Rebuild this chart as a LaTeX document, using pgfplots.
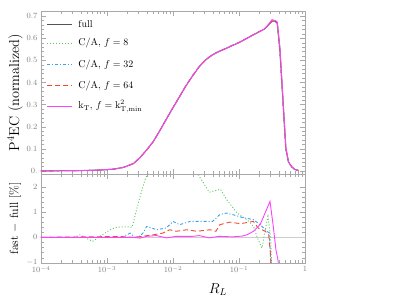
\documentclass[border=0pt]{standalone}
\usepackage{pgfplots}
\pgfplotsset{compat=1.18}
\definecolor{colfull}{HTML}{555555}
\definecolor{colca}{HTML}{5CC65C}
\definecolor{colcb}{HTML}{3AA0F0}
\definecolor{colcc}{HTML}{F04A2A}
\definecolor{colkt}{HTML}{FF40FF}
\definecolor{colax}{HTML}{A8A8A8}
\definecolor{coltick}{HTML}{808080}
\definecolor{colzero}{HTML}{CCCCCC}
\begin{document}
\begin{tikzpicture}
\path[use as bounding box] (0,0) rectangle (399bp,304bp);
% ---------- upper panel ----------
\begin{axis}[scale only axis, width=264bp, height=163bp,
  xmode=log, xmin=1e-4, xmax=1,
  axis line style={colax}, tick style={colax}, tick align=inside,
  major tick length=5bp, minor tick length=3bp,
  tick label style={font=\footnotesize, text=coltick},
  at={(41bp,130bp)}, anchor=south west,
  ymin=-0.014, ymax=0.723,
  ytick={0,0.1,0.2,0.3,0.4,0.5,0.6,0.7},
  yticklabels={0.,0.1,0.2,0.3,0.4,0.5,0.6,0.7},
  minor y tick num=4, xticklabels={},
  ylabel={P$^4$EC (normalized)},
  ylabel style={font=\Large, at={(axis description cs:-0.098,0.5)}, anchor=center},
]
\addplot[draw=colfull, line width=1pt] coordinates {
(1e-4,0.000) (2.51e-4,0.001) (5.01e-4,0.002) (7.94e-4,0.004) (1.26e-3,0.008)
(1.78e-3,0.016) (2.51e-3,0.033) (3.16e-3,0.060) (3.98e-3,0.094) (5.01e-3,0.132)
(6.31e-3,0.182) (7.94e-3,0.234) (1e-2,0.286) (1.26e-2,0.336) (1.58e-2,0.386)
(2.00e-2,0.431) (2.51e-2,0.472) (3.16e-2,0.503) (3.98e-2,0.525) (5.01e-2,0.540)
(6.31e-2,0.553) (7.94e-2,0.567) (0.1,0.580) (0.126,0.596) (0.158,0.612)
(0.200,0.628) (0.240,0.640) (0.282,0.660) (0.316,0.678) (0.355,0.676)
(0.380,0.670) (0.417,0.55) (0.447,0.40) (0.479,0.25) (0.513,0.10)
(0.562,0.040) (0.631,0.018) (0.708,0.006) (0.794,0.002)};
\addplot[draw=colca, line width=0.9pt, dash pattern=on 1pt off 2pt] coordinates {
(1e-4,0.000) (2.51e-4,0.001) (5.01e-4,0.002) (7.94e-4,0.004) (1.26e-3,0.008)
(1.78e-3,0.016) (2.51e-3,0.034) (3.16e-3,0.061) (3.98e-3,0.096) (5.01e-3,0.134)
(6.31e-3,0.184) (7.94e-3,0.236) (1e-2,0.288) (1.26e-2,0.338) (1.58e-2,0.388)
(2.00e-2,0.433) (2.51e-2,0.474) (3.16e-2,0.505) (3.98e-2,0.527) (5.01e-2,0.542)
(6.31e-2,0.554) (7.94e-2,0.568) (0.1,0.581) (0.126,0.597) (0.158,0.613)
(0.200,0.628) (0.240,0.640) (0.282,0.661) (0.316,0.678) (0.355,0.674)
(0.380,0.660) (0.417,0.52) (0.447,0.37) (0.479,0.22) (0.513,0.09)
(0.562,0.036) (0.631,0.016) (0.708,0.005) (0.794,0.002)};
\addplot[draw=colcb, line width=0.9pt, dash pattern=on 3pt off 2pt on 1pt off 2pt] coordinates {
(1e-4,0.000) (2.51e-4,0.001) (5.01e-4,0.002) (7.94e-4,0.004) (1.26e-3,0.008)
(1.78e-3,0.016) (2.51e-3,0.033) (3.16e-3,0.060) (3.98e-3,0.094) (5.01e-3,0.132)
(6.31e-3,0.182) (7.94e-3,0.234) (1e-2,0.287) (1.26e-2,0.337) (1.58e-2,0.387)
(2.00e-2,0.432) (2.51e-2,0.473) (3.16e-2,0.504) (3.98e-2,0.526) (5.01e-2,0.541)
(6.31e-2,0.554) (7.94e-2,0.568) (0.1,0.581) (0.126,0.597) (0.158,0.613)
(0.200,0.629) (0.240,0.640) (0.282,0.660) (0.316,0.677) (0.355,0.675)
(0.380,0.668) (0.417,0.54) (0.447,0.39) (0.479,0.24) (0.513,0.10)
(0.562,0.040) (0.631,0.018) (0.708,0.006) (0.794,0.002)};
\addplot[draw=colcc, line width=0.9pt, dash pattern=on 5pt off 3pt] coordinates {
(1e-4,0.000) (2.51e-4,0.001) (5.01e-4,0.002) (7.94e-4,0.004) (1.26e-3,0.008)
(1.78e-3,0.016) (2.51e-3,0.033) (3.16e-3,0.060) (3.98e-3,0.094) (5.01e-3,0.132)
(6.31e-3,0.182) (7.94e-3,0.234) (1e-2,0.286) (1.26e-2,0.336) (1.58e-2,0.386)
(2.00e-2,0.432) (2.51e-2,0.473) (3.16e-2,0.504) (3.98e-2,0.526) (5.01e-2,0.541)
(6.31e-2,0.554) (7.94e-2,0.568) (0.1,0.581) (0.126,0.597) (0.158,0.613)
(0.200,0.629) (0.240,0.640) (0.282,0.660) (0.316,0.677) (0.355,0.675)
(0.380,0.668) (0.417,0.54) (0.447,0.39) (0.479,0.24) (0.513,0.10)
(0.562,0.040) (0.631,0.018) (0.708,0.006) (0.794,0.002)};
\addplot[draw=colkt, line width=0.9pt] coordinates {
(1e-4,0.000) (2.51e-4,0.001) (5.01e-4,0.002) (7.94e-4,0.004) (1.26e-3,0.008)
(1.78e-3,0.016) (2.51e-3,0.033) (3.16e-3,0.060) (3.98e-3,0.094) (5.01e-3,0.132)
(6.31e-3,0.182) (7.94e-3,0.234) (1e-2,0.286) (1.26e-2,0.336) (1.58e-2,0.386)
(2.00e-2,0.431) (2.51e-2,0.472) (3.16e-2,0.503) (3.98e-2,0.525) (5.01e-2,0.540)
(6.31e-2,0.553) (7.94e-2,0.567) (0.1,0.580) (0.126,0.596) (0.158,0.612)
(0.200,0.629) (0.240,0.641) (0.282,0.664) (0.316,0.684) (0.355,0.680)
(0.380,0.674) (0.417,0.56) (0.447,0.41) (0.479,0.26) (0.513,0.11)
(0.562,0.042) (0.631,0.018) (0.708,0.006) (0.794,0.002)};
% legend samples
\addplot[draw=colfull, line width=1pt] coordinates {(1.233e-4,0.664) (2.95e-4,0.664)};
\addplot[draw=colca, line width=0.9pt, dash pattern=on 1pt off 2pt] coordinates {(1.233e-4,0.576) (2.95e-4,0.576)};
\addplot[draw=colcb, line width=0.9pt, dash pattern=on 3pt off 2pt on 1pt off 2pt] coordinates {(1.233e-4,0.481) (2.95e-4,0.481)};
\addplot[draw=colcc, line width=0.9pt, dash pattern=on 5pt off 3pt] coordinates {(1.233e-4,0.386) (2.95e-4,0.386)};
\addplot[draw=colkt, line width=0.9pt] coordinates {(1.233e-4,0.291) (2.95e-4,0.291)};
\node[anchor=west, inner sep=0pt, font=\normalsize] at (axis cs:3.67e-4,0.664) {full};
\node[anchor=west, inner sep=0pt, font=\normalsize] at (axis cs:3.67e-4,0.576) {C/A, $f=8$};
\node[anchor=west, inner sep=0pt, font=\normalsize] at (axis cs:3.67e-4,0.481) {C/A, $f=32$};
\node[anchor=west, inner sep=0pt, font=\normalsize] at (axis cs:3.67e-4,0.386) {C/A, $f=64$};
\node[anchor=west, inner sep=0pt, font=\normalsize] at (axis cs:3.67e-4,0.291) {$\mathrm{k_T}$, $f=\mathrm{k^2_{T,min}}$};
\end{axis}
% ---------- lower panel ----------
\begin{axis}[scale only axis, width=264bp, height=88.7bp,
  xmode=log, xmin=1e-4, xmax=1,
  axis line style={colax}, tick style={colax}, tick align=inside,
  major tick length=5bp, minor tick length=3bp,
  tick label style={font=\footnotesize, text=coltick},
  at={(41bp,41.3bp)}, anchor=south west,
  ymin=-1, ymax=2.5, ytick={-1,0,1,2}, minor y tick num=4,
  xtick={1e-4,1e-3,1e-2,1e-1,1},
  xticklabels={$10^{-4}$,$10^{-3}$,$10^{-2}$,$10^{-1}$,$1$},
  xlabel={$R_L$},
  xlabel style={font=\Large, at={(axis description cs:0.67,-0.30)}, anchor=center},
  ylabel={fast $-$ full [\%]},
  ylabel style={font=\large, at={(axis description cs:-0.098,0.5)}, anchor=center},
]
\addplot[draw=colzero, line width=0.8pt] coordinates {(1e-4,0) (1,0)};
\addplot[draw=colca, line width=0.9pt, dash pattern=on 1pt off 2pt] coordinates {
(1e-4,0) (3.16e-4,0) (3.89e-4,0.1) (5.01e-4,-0.05) (6.03e-4,-0.16) (7.94e-4,0.05)
(1.12e-3,0.30) (1.41e-3,0.40) (2.00e-3,0.42) (2.40e-3,0.40) (3.16e-3,1.6)
(3.80e-3,2.3) (5.01e-3,3.0) (1e-2,3.4) (2.09e-2,2.8) (2.51e-2,2.4)
(3.55e-2,1.78) (4.47e-2,1.85) (5.25e-2,1.9) (6.46e-2,1.5) (9.33e-2,0.96)
(0.132,0.70) (0.166,0.43) (0.195,-0.10) (0.224,-0.42) (0.245,0.17)
(0.275,0.83) (0.302,0.0) (0.316,-1.5)};
\addplot[draw=colcb, line width=0.9pt, dash pattern=on 3pt off 2pt on 1pt off 2pt] coordinates {
(1e-4,0) (1.58e-3,0) (2.00e-3,0.1) (2.24e-3,0.17) (2.63e-3,0.0) (3.16e-3,0.05)
(3.55e-3,0.18) (3.98e-3,0.43) (5.01e-3,0.35) (5.62e-3,0.30) (7.94e-3,0.37)
(1e-2,0.63) (1.26e-2,0.50) (1.82e-2,0.63) (3.16e-2,0.63) (3.98e-2,0.63)
(5.13e-2,0.90) (6.46e-2,0.96) (7.94e-2,0.90) (0.117,0.77) (0.166,0.70)
(0.209,0.50) (0.263,0.24) (0.288,0.18) (0.302,-0.9) (0.316,-1.5)};
\addplot[draw=colcc, line width=0.9pt, dash pattern=on 5pt off 3pt] coordinates {
(1e-4,0) (1.12e-3,0.03) (1.58e-3,0.03) (2.51e-3,0.0) (3.16e-3,0.03)
(5.01e-3,0.10) (7.08e-3,0.17) (8.91e-3,0.30) (1.12e-2,0.24) (1.62e-2,0.30)
(2.29e-2,0.24) (3.63e-2,0.30) (4.47e-2,0.24) (5.13e-2,0.50) (7.24e-2,0.60)
(0.105,0.54) (0.166,0.63) (0.195,0.37) (0.251,0.24) (0.282,0.10)
(0.302,-0.75) (0.316,-1.5)};
\addplot[draw=colkt, line width=0.9pt] coordinates {
(1e-4,0) (2.51e-3,0) (3.16e-3,-0.03) (3.98e-3,0.04) (5.62e-3,0.07)
(7.94e-3,-0.02) (1.12e-2,0.04) (2.00e-2,0.04) (2.51e-2,0.07) (3.55e-2,-0.02)
(5.01e-2,0.04) (7.94e-2,0.02) (0.112,0.05) (0.132,0.10) (0.166,0.24)
(0.209,0.50) (0.295,1.42) (0.331,0.43) (0.363,-0.49) (0.389,-0.88) (0.407,-1.3)};
\end{axis}
\end{tikzpicture}
\end{document}
